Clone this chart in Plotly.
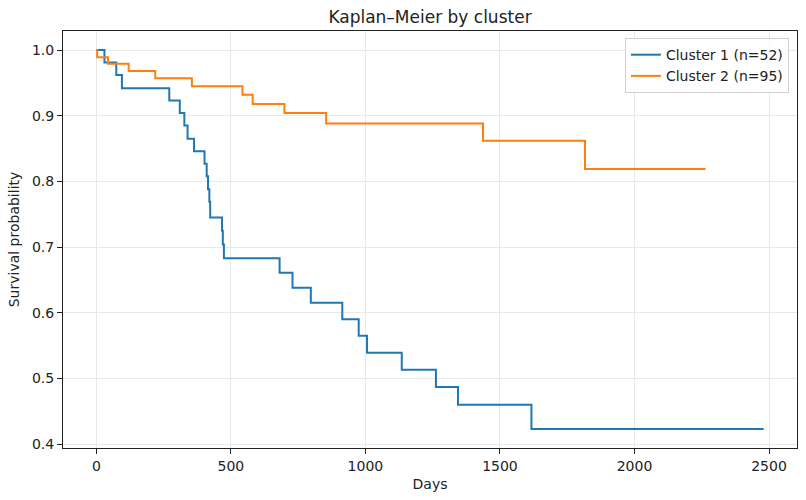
import plotly.graph_objects as go

# Kaplan-Meier step points: (day of drop, survival after drop); last point = end of follow-up
c1_days = [0, 30, 74, 95, 271, 310, 327, 339, 363, 402, 410, 415, 420, 423, 467, 470, 474,
           681, 729, 797, 914, 975, 1006, 1135, 1262, 1344, 1617, 2480]
c1_surv = [1.0, 0.981, 0.962, 0.942, 0.923, 0.904, 0.885, 0.865, 0.846, 0.827, 0.808, 0.788,
           0.769, 0.745, 0.725, 0.704, 0.683, 0.661, 0.638, 0.615, 0.590, 0.565, 0.539,
           0.513, 0.487, 0.460, 0.423, 0.423]

c2_days = [0, 3, 43, 120, 219, 355, 543, 581, 699, 854, 1437, 1816, 2264]
c2_surv = [1.0, 0.989, 0.979, 0.968, 0.957, 0.945, 0.932, 0.918, 0.904, 0.888, 0.862,
           0.819, 0.819]

series_names = ["Cluster 1 (n=52)", "Cluster 2 (n=95)"]
colors = ["#1f77b4", "#ff7f0e"]

x_ticks = [0, 500, 1000, 1500, 2000, 2500]
y_ticks = [0.4, 0.5, 0.6, 0.7, 0.8, 0.9, 1.0]

fig = go.Figure()
for days, surv, name, col in zip([c1_days, c2_days], [c1_surv, c2_surv], series_names, colors):
    fig.add_trace(go.Scatter(x=days, y=surv, mode="lines", name=name,
                             line=dict(color=col, width=2, shape="hv")))

axis_style = dict(showline=True, linecolor="#222", linewidth=1.1, mirror=True,
                  ticks="outside", ticklen=5, tickcolor="#222", tickwidth=1,
                  showgrid=True, gridcolor="#e8e8e8", gridwidth=1, zeroline=False,
                  tickfont=dict(size=14, color="#222"))

fig.update_xaxes(range=[-124, 2604], tickvals=x_ticks,
                 title=dict(text="Days", font=dict(size=14), standoff=6), **axis_style)
fig.update_yaxes(range=[0.394, 1.029], tickvals=y_ticks, tickformat=".1f",
                 title=dict(text="Survival probability", font=dict(size=14), standoff=8), **axis_style)

fig.update_layout(
    width=806, height=500,
    margin=dict(l=63, r=9, t=31, b=52),
    paper_bgcolor="white", plot_bgcolor="white",
    font=dict(family="DejaVu Sans", color="#222"),
    title=dict(text="Kaplan–Meier by cluster", x=0.5, xref="paper", xanchor="center",
               y=1 - 17 / 500, yanchor="middle", font=dict(size=17, color="#222")),
    legend=dict(x=0.989, y=0.983, xanchor="right", yanchor="top",
                bgcolor="rgba(255,255,255,0.8)", bordercolor="#d0d0d0", borderwidth=1,
                font=dict(size=14), itemwidth=30, tracegroupgap=0),
    showlegend=True,
)

# drop the browser's default body margin so the figure sits at the page corner
fig.write_html("out.html", config={"displayModeBar": False},
               post_script="document.body.style.margin='0';")
